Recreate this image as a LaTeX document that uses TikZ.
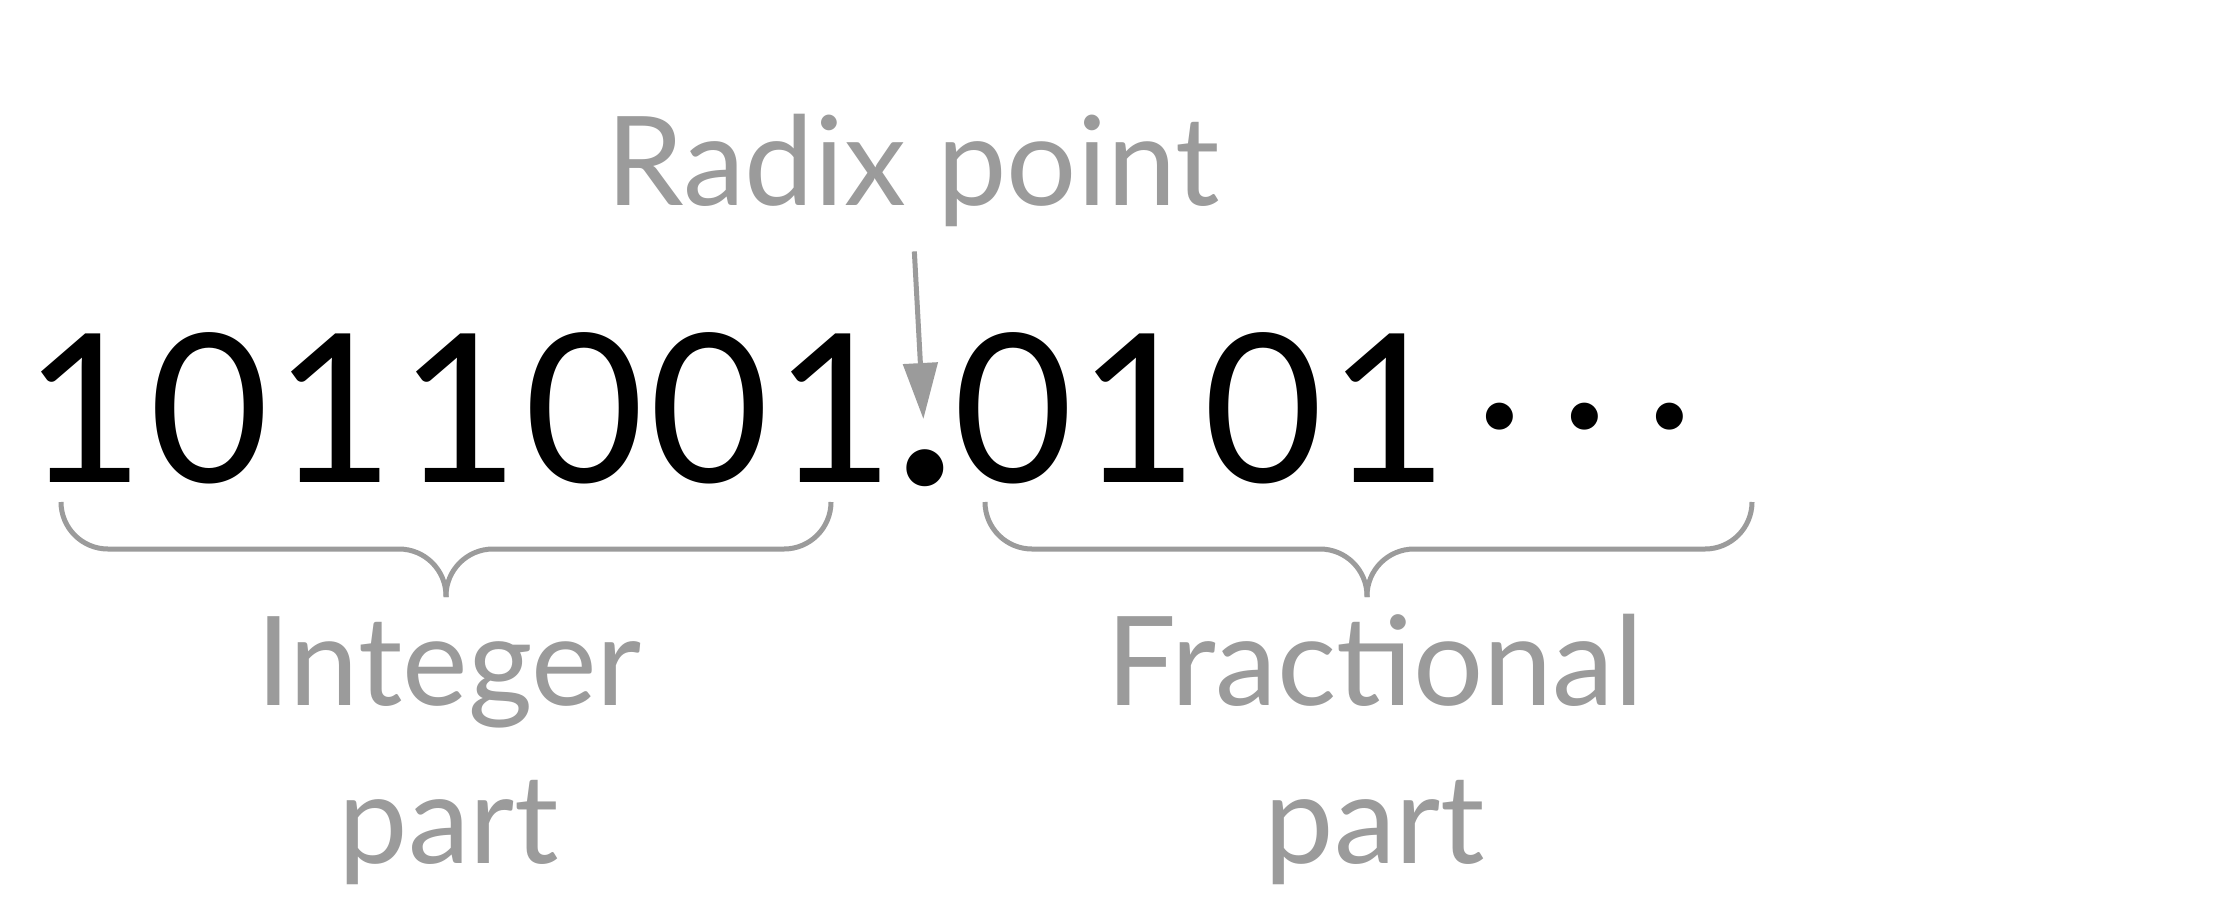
\documentclass[tikz,border=0pt]{standalone}
\usepackage{fontspec}
\setmainfont{Lato}
\newfontfamily\digitfont[Numbers={Lining,Monospaced},LetterSpace=2.4]{Lato}
\newfontfamily\dotfont{Lato}
\usetikzlibrary{arrows.meta}
\definecolor{labelgray}{RGB}{155,155,155}
\tikzset{
  digits/.style={inner sep=0pt, anchor=base, text=black, font=\digitfont\fontsize{207}{207}\selectfont},
  bigdot/.style={inner sep=0pt, anchor=base, text=black, font=\dotfont\fontsize{295}{295}\selectfont},
  ellip/.style={inner sep=0pt, anchor=base, text=black, font=\dotfont\fontsize{215}{215}\selectfont},
  label/.style={inner sep=0pt, anchor=base, text=labelgray, align=center, font=\fontsize{124}{158}\selectfont},
  pointer/.style={draw=labelgray, line width=5pt, -{Triangle[width=34pt,length=56pt]}},
  bracepath/.style={draw=labelgray, line width=5pt, rounded corners=47pt}
}
\begin{document}
\begin{tikzpicture}[x=1pt,y=-1pt]
\useasboundingbox[fill=white] (0,0) rectangle (2219,914);
% numeral
\node[digits] (int) at (460,482) {1011001};
\node[bigdot] (dot) at (925,484) {.};
\node[digits] (frac) at (1201,482) {0101};
\node[ellip] (e1) at (1500,428) {.};
\node[ellip] (e2) at (1585,428) {.};
\node[ellip] (e3) at (1670,428) {.};
% labels
\node[label] (radix) at (913,205) {Radix point};
\node[label] (intlab) at (449,863) {Integer\\part};
\node[label] (fraclab) at (1375,863) {Fractional\\part};
% pointer
\draw[pointer, shorten <=25pt, shorten >=30pt] (radix.south) -- (dot.north);
% braces
\coordinate (bl1) at (61,502);
\coordinate (bt1) at (446,597);
\coordinate (br1) at (831,502);
\draw[bracepath] (bl1) -- (61,549) -- (446,549) -- (bt1);
\draw[bracepath] (bt1) -- (446,549) -- (831,549) -- (br1);
\coordinate (bl2) at (985,502);
\coordinate (bt2) at (1367,597);
\coordinate (br2) at (1752,502);
\draw[bracepath] (bl2) -- (985,549) -- (1367,549) -- (bt2);
\draw[bracepath] (bt2) -- (1367,549) -- (1752,549) -- (br2);
\end{tikzpicture}
\end{document}
